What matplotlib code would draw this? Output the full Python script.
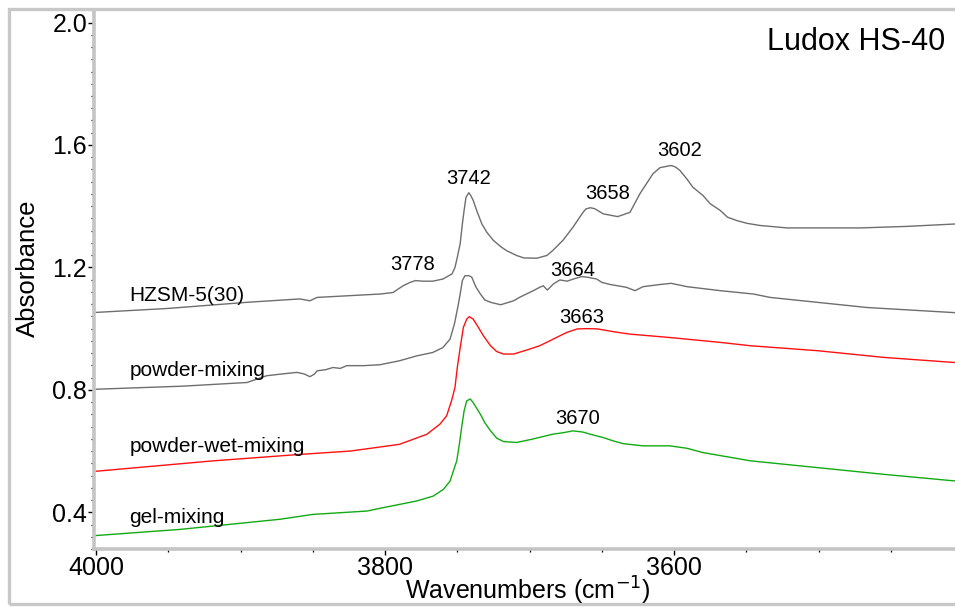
import matplotlib
matplotlib.use("Agg")
import matplotlib.pyplot as plt
from matplotlib.patches import Rectangle
from matplotlib.ticker import MultipleLocator, FormatStrFormatter

plt.rcParams['font.family'] = ['Liberation Sans', 'DejaVu Sans']

# FTIR spectra (wavenumber in cm-1, absorbance)
wn_hzsm = [4000, 3950, 3895.5, 3859, 3852, 3847, 3803.5, 3794.5, 3787.5, 3782.7, 3779, 3774,
           3767, 3760, 3753.6, 3751.6, 3750, 3748, 3746.5, 3745.3, 3744, 3742, 3740.7, 3739,
           3736.6, 3733, 3729.6, 3725, 3720, 3716, 3709, 3704, 3695, 3688, 3684, 3677, 3670,
           3663, 3661, 3658, 3655, 3649, 3639, 3630.5, 3623.6, 3614.6, 3609.7, 3602, 3599,
           3596, 3591.3, 3587, 3580, 3575, 3568, 3563, 3556.6, 3549.5, 3540.5, 3531, 3522,
           3471, 3439, 3405]
ab_hzsm = [1.053, 1.066, 1.086, 1.097, 1.091, 1.102, 1.113, 1.118, 1.140, 1.151, 1.157, 1.155,
           1.155, 1.162, 1.179, 1.200, 1.233, 1.278, 1.342, 1.386, 1.429, 1.444, 1.435, 1.419,
           1.386, 1.342, 1.315, 1.288, 1.268, 1.255, 1.239, 1.231, 1.230, 1.239, 1.255, 1.288, 1.331,
           1.380, 1.391, 1.395, 1.392, 1.375, 1.366, 1.380, 1.441, 1.506, 1.526, 1.533, 1.528,
           1.517, 1.490, 1.462, 1.435, 1.408, 1.386, 1.364, 1.353, 1.344, 1.337, 1.333, 1.329,
           1.329, 1.334, 1.342]

wn_powder = [4000, 3940, 3895.5, 3882, 3873, 3861, 3856, 3852, 3849, 3847, 3841, 3836, 3831,
             3826.5, 3815, 3803.5, 3790, 3778, 3767, 3760, 3755, 3752, 3749.7, 3748, 3746.5,
             3744.7, 3742, 3740, 3737, 3734, 3731, 3727, 3720, 3711, 3707, 3697.4, 3693, 3690.5,
             3687.7, 3683.5, 3679, 3674, 3669.7, 3664, 3660, 3653.5, 3650, 3644, 3633, 3627,
             3621.5, 3610, 3602, 3591, 3568, 3545, 3533.6, 3466.5, 3405]
ab_powder = [0.802, 0.812, 0.824, 0.846, 0.851, 0.857, 0.852, 0.843, 0.851, 0.862, 0.866, 0.873, 0.870,
             0.879, 0.879, 0.882, 0.895, 0.911, 0.922, 0.938, 0.966, 1.015, 1.069, 1.113, 1.157,
             1.173, 1.173, 1.168, 1.135, 1.113, 1.094, 1.086, 1.078, 1.091, 1.102, 1.124, 1.135, 1.140,
             1.126, 1.146, 1.159, 1.155, 1.162, 1.170, 1.168, 1.162, 1.151, 1.144, 1.135, 1.124,
             1.137, 1.144, 1.148, 1.137, 1.124, 1.113, 1.102, 1.069, 1.052]

wn_wet = [4000, 3919, 3859, 3824, 3790, 3771, 3762, 3757.4, 3754, 3751.6, 3750, 3748, 3745.8,
          3743.5, 3741.7, 3739, 3735.4, 3732, 3727, 3722.7, 3718, 3711, 3702, 3693, 3686, 3684,
          3674, 3667, 3660, 3653, 3642, 3630.5, 3603, 3568, 3547, 3501, 3455, 3405]
ab_wet = [0.534, 0.568, 0.589, 0.600, 0.622, 0.655, 0.688, 0.715, 0.764, 0.808, 0.873, 0.938, 1.004,
          1.031, 1.039, 1.031, 1.004, 0.977, 0.944, 0.925, 0.917, 0.917, 0.930, 0.944, 0.960, 0.965,
          0.988, 0.999, 1.000, 0.999, 0.990, 0.982, 0.971, 0.955, 0.944, 0.928, 0.906, 0.889]

wn_gel = [4000, 3942, 3873, 3850, 3812.5, 3803.5, 3778, 3766.6, 3759.6, 3755, 3752.7, 3750.4,
          3748.6, 3747, 3745.3, 3743.5, 3741, 3739, 3734, 3731, 3727, 3722.7, 3718, 3709, 3698,
          3684, 3676.6, 3670, 3663, 3658, 3649, 3642, 3635, 3621.5, 3603, 3591, 3580, 3547,
          3501, 3455, 3405]
ab_gel = [0.324, 0.344, 0.377, 0.393, 0.404, 0.413, 0.437, 0.453, 0.475, 0.502, 0.535, 0.568,
          0.622, 0.677, 0.731, 0.764, 0.770, 0.758, 0.720, 0.693, 0.666, 0.642, 0.631, 0.628, 0.639,
          0.655, 0.660, 0.666, 0.662, 0.655, 0.644, 0.633, 0.624, 0.617, 0.617, 0.609, 0.595, 0.568,
          0.546, 0.524, 0.502]

series_names = ["HZSM-5(30)", "powder-mixing", "powder-wet-mixing", "gel-mixing"]
series_label_y = [1.108, 0.862, 0.614, 0.382]

peak_labels = ["3742", "3778", "3658", "3602", "3664", "3663", "3670"]
peak_label_x = [3742, 3781, 3646, 3596, 3670, 3664, 3667]
peak_label_y = [1.490, 1.209, 1.441, 1.582, 1.190, 1.036, 0.705]

W, H = 955, 607
fig = plt.figure(figsize=(W / 100, H / 100), dpi=100)
ax = fig.add_axes([94 / W, 1 - 549 / H, (W - 94) / W, (549 - 10) / H])

gray = '#6e6e6e'
ax.plot(wn_hzsm, ab_hzsm, color=gray, lw=1.0)
ax.plot(wn_powder, ab_powder, color=gray, lw=1.0)
ax.plot(wn_wet, ab_wet, color='#ff1010', lw=1.0)
ax.plot(wn_gel, ab_gel, color='#12aa12', lw=1.0)

ax.set_xlim(4001.4, 3405.6)
ax.set_ylim(0.280, 2.041)

ax.xaxis.set_major_locator(MultipleLocator(200))
ax.xaxis.set_minor_locator(MultipleLocator(50))
ax.yaxis.set_major_locator(MultipleLocator(0.4))
ax.yaxis.set_minor_locator(MultipleLocator(0.04))
ax.yaxis.set_major_formatter(FormatStrFormatter('%.1f'))

for s in ['top', 'right']:
    ax.spines[s].set_visible(False)
for s in ['left', 'bottom']:
    ax.spines[s].set_color('#c4c4c4')
    ax.spines[s].set_linewidth(2.6)

ax.tick_params(axis='both', which='major', direction='out', length=4, width=1.0,
               color='black', labelsize=18, pad=1)
ax.tick_params(axis='both', which='minor', direction='out', length=2.5, width=0.9,
               color='black')

fig.text(528 / W, 1 - 591 / H, "Wavenumbers (cm$^{-1}$)", fontsize=18, ha='center', va='center')
fig.text(28 / W, 1 - 268 / H, "Absorbance", fontsize=18.5, rotation=90, ha='center', va='center')

for name, yv in zip(series_names, series_label_y):
    ax.text(3977, yv, name, fontsize=15, ha='left', va='center')

for lab, xv, yv in zip(peak_labels, peak_label_x, peak_label_y):
    ax.text(xv, yv, lab, fontsize=14.5, ha='center', va='center')

fig.text(945 / W, 1 - 42 / H, "Ludox HS-40", fontsize=22, ha='right', va='center')

# outer frame
fig.patches.append(Rectangle((9 / W, 3 / H), 2.0, (H - 12) / H, transform=fig.transFigure,
                             fill=False, edgecolor='#c8c8c8', linewidth=2.4))

fig.savefig("out.png", dpi=100)
